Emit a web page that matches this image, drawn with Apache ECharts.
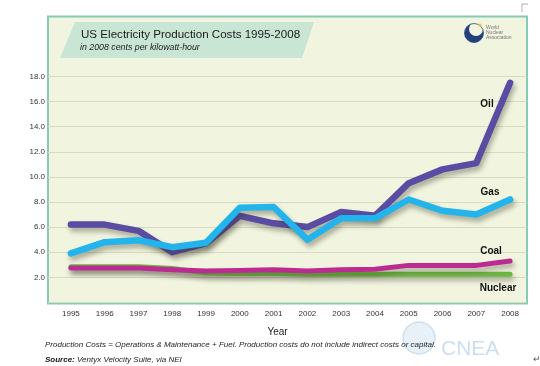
<!DOCTYPE html>
<html>
<head>
<meta charset="utf-8">
<script src="https://cdn.jsdelivr.net/npm/echarts@6/dist/echarts.min.js"></script>
<style>
html,body{margin:0;padding:0;background:#ffffff;}
#chart{width:540px;height:366px;}
</style>
</head>
<body>
<div id="chart"></div>
<script>
const years = ['1995','1996','1997','1998','1999','2000','2001','2002','2003','2004','2005','2006','2007','2008'];
const oil     = [6.2, 6.2, 5.7, 4.0, 4.7, 6.9, 6.3, 6.0, 7.2, 6.9, 9.5, 10.6, 11.1, 17.5];
const gas     = [3.9, 4.8, 4.95, 4.4, 4.75, 7.55, 7.6, 5.0, 6.7, 6.7, 8.2, 7.3, 7.0, 8.2];
const coal    = [2.75, 2.75, 2.75, 2.6, 2.5, 2.55, 2.6, 2.5, 2.6, 2.65, 2.95, 2.95, 2.95, 3.3];
const nuclear = [2.85, 2.85, 2.85, 2.7, 2.35, 2.3, 2.3, 2.25, 2.25, 2.25, 2.25, 2.25, 2.25, 2.25];
const yTicks = { min: 0, max: 18, interval: 2 };

const FONT = '"Liberation Sans", Arial, sans-serif';
const chart = echarts.init(document.getElementById('chart'));

function lineSeries(name, data, color, width, z) {
  return {
    name: name, type: 'line', data: data, xAxisIndex: 1, yAxisIndex: 1,
    showSymbol: false, symbol: 'none', z: z,
    lineStyle: {
      color: color, width: width, cap: 'round', join: 'round',
      shadowColor: 'rgba(50,50,30,0.38)', shadowBlur: 5, shadowOffsetX: 2, shadowOffsetY: 4
    },
    emphasis: { disabled: true }
  };
}

function txt(x, y, text, font, fill, align, z) {
  return { type: 'text', z: z || 50, style: { x: x, y: y, text: text, font: font, fill: fill,
    align: align || 'left', verticalAlign: 'middle' } };
}

const gridTop = 76.5, gridBottom = 63.6;

chart.setOption({
  animation: false,
  textStyle: { fontFamily: FONT },
  grid: [
    { left: 48, right: 13, top: gridTop, bottom: gridBottom },
    { left: 54, right: 13, top: gridTop, bottom: gridBottom }
  ],
  xAxis: [
    { gridIndex: 0, type: 'category', data: years, show: false },
    {
      gridIndex: 1, type: 'category', data: years, boundaryGap: true,
      axisLine: { show: false }, axisTick: { show: false },
      axisLabel: { color: '#333', fontSize: 8, margin: 7, fontFamily: FONT, interval: 0 },
      name: 'Year', nameLocation: 'middle', nameGap: 25,
      nameTextStyle: { color: '#222', fontSize: 10, fontFamily: FONT, padding: [0, 26, 0, 0] }
    }
  ],
  yAxis: [
    {
      gridIndex: 0, type: 'value', min: yTicks.min, max: yTicks.max, interval: yTicks.interval,
      axisLine: { show: false }, axisTick: { show: false },
      axisLabel: { color: '#333', fontSize: 8, margin: 3, fontFamily: FONT,
        formatter: v => v === 0 ? '' : v.toFixed(1) },
      splitLine: { show: true, lineStyle: { color: '#d6dbc0', width: 1 } }
    },
    {
      gridIndex: 1, type: 'value', min: yTicks.min, max: yTicks.max, interval: yTicks.interval,
      show: false, splitLine: { show: false }
    }
  ],
  series: [
    lineSeries('Nuclear', nuclear, '#6db743', 5, 3),
    lineSeries('Coal', coal, '#bb2b92', 5, 4),
    lineSeries('Oil', oil, '#5a4ba3', 6.5, 5),
    lineSeries('Gas', gas, '#22b4ea', 6.5, 6)
  ],
  graphic: { elements: [
    { type: 'rect', z: -10, shape: { x: 48, y: 16.5, width: 479, height: 287 },
      style: { fill: '#f1f4df', stroke: '#86cbb6', lineWidth: 2 } },
    { type: 'polygon', z: -5, shape: { points: [[75, 22], [314, 22], [302, 58], [60, 58]] },
      style: { fill: '#c9e6d5' } },
    txt(81, 34.5, 'US Electricity Production Costs 1995-2008', '11.6px ' + FONT, '#1a1a1a'),
    txt(80, 48, 'in 2008 cents per kilowatt-hour', 'italic 8.8px ' + FONT, '#222'),
    // logo
    { type: 'circle', z: 50, shape: { cx: 474, cy: 33, r: 9.5 }, style: { fill: '#22407a' } },
    { type: 'circle', z: 51, shape: { cx: 476, cy: 29, r: 7 }, style: { fill: '#f1f4df' } },
    { type: 'circle', z: 52, shape: { cx: 474, cy: 33, r: 9.5 }, style: { fill: 'none', stroke: '#2a4a86', lineWidth: 0.8 } },
    { type: 'circle', z: 53, shape: { cx: 480, cy: 25, r: 1.6 }, style: { fill: '#e8c23a' } },
    txt(486, 28, 'World', '5px ' + FONT, '#777'),
    txt(486, 33, 'Nuclear', '5px ' + FONT, '#777'),
    txt(486, 38, 'Association', '5px ' + FONT, '#777'),
    // series labels
    txt(487, 104, 'Oil', 'bold 10px ' + FONT, '#111', 'center'),
    txt(490, 192, 'Gas', 'bold 10px ' + FONT, '#111', 'center'),
    txt(491, 251, 'Coal', 'bold 10px ' + FONT, '#111', 'center'),
    txt(498, 288, 'Nuclear', 'bold 10px ' + FONT, '#111', 'center'),
    // watermark
    { type: 'circle', z: 40, shape: { cx: 419, cy: 338, r: 16 }, style: { fill: 'rgba(190,215,235,0.35)', stroke: 'rgba(180,208,232,0.6)', lineWidth: 1.5 } },
    txt(441, 349, 'CNEA', '21px ' + FONT, 'rgba(175,205,232,0.65)', 'left', 40),
    // footnotes
    txt(45, 345, 'Production Costs = Operations & Maintenance + Fuel. Production costs do not include indirect costs or capital.', 'italic 8px ' + FONT, '#222'),
    txt(45, 359.5, 'Source:', 'bold italic 8px ' + FONT, '#111'),
    txt(77, 359.5, 'Ventyx Velocity Suite, via NEI', 'italic 8px ' + FONT, '#222'),
    txt(533, 360, '↵', '9px ' + FONT, '#555'),
    { type: 'line', z: 50, shape: { x1: 522, y1: 4, x2: 522, y2: 12 }, style: { stroke: '#999', lineWidth: 0.8 } },
    { type: 'line', z: 50, shape: { x1: 522, y1: 4, x2: 528, y2: 4 }, style: { stroke: '#999', lineWidth: 0.8 } }
  ] }
});
</script>
</body>
</html>
